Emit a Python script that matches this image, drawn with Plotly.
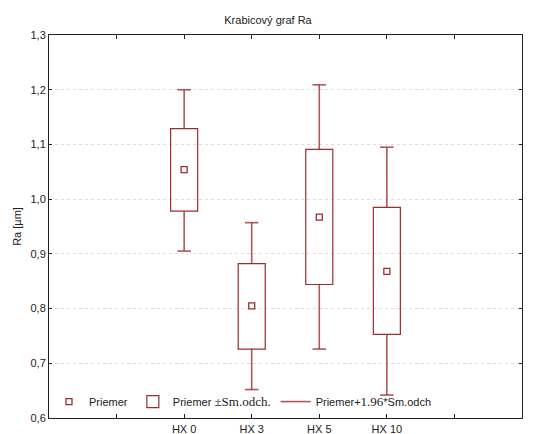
import plotly.graph_objects as go

categories = ["HX 0", "HX 3", "HX 5", "HX 10"]
means = [1.054, 0.805, 0.967, 0.868]
box_low = [0.978, 0.726, 0.844, 0.753]
box_high = [1.129, 0.882, 1.091, 0.985]
whisk_low = [0.905, 0.652, 0.726, 0.642]
whisk_high = [1.200, 0.957, 1.209, 1.095]
tick_labels = [""] + categories + [""]

positions = [i + 2 for i in range(len(categories))]
col = "#9b2d30"
font_sans = "Liberation Sans, Arial, sans-serif"
serif = "Liberation Serif, Times New Roman, serif"

fig = go.Figure()

# whiskers (built from data values)
wx, wy = [], []
cap = 0.1
for p, bl, bh, wl, wh in zip(positions, box_low, box_high, whisk_low, whisk_high):
    wx += [p, p, None, p - cap, p + cap, None, p, p, None, p - cap, p + cap, None]
    wy += [bh, wh, None, wh, wh, None, bl, wl, None, wl, wl, None]

fig.add_trace(go.Scatter(
    x=positions, y=means, mode="markers",
    marker=dict(symbol="square-open", size=6, color=col, line=dict(width=1.3, color=col)),
    name="Priemer",
))
fig.add_trace(go.Bar(
    x=positions, base=box_low, y=[h - l for h, l in zip(box_high, box_low)],
    width=0.4, marker=dict(color="rgba(255,255,255,0)", line=dict(color=col, width=1.2)),
    name=f'Priemer <span style="font-family:{serif};font-size:13px">±Sm.odch.</span>',
    hoverinfo="skip",
))
fig.add_trace(go.Scatter(
    x=wx, y=wy, mode="lines", line=dict(color="rgba(155,45,48,0.8)", width=1.6),
    name=f'Priemer+<span style="font-family:{serif};font-size:13px">1.96</span>*Sm.odch',
))

fig.update_layout(
    width=536, height=434,
    margin=dict(l=49, r=14, t=35, b=16),
    paper_bgcolor="white", plot_bgcolor="white",
    separators=", ",
    title=dict(text="Krabicový graf Ra", x=0.5, xanchor="center", y=0.953, yanchor="middle",
               font=dict(family=font_sans, size=11, color="#222")),
    font=dict(family=font_sans, size=11, color="#222"),
    showlegend=True,
    legend=dict(orientation="h", x=0.0, y=0.005, xanchor="left", yanchor="bottom",
                bgcolor="rgba(0,0,0,0)", font=dict(size=11, color="#222"),
                itemwidth=30, traceorder="normal"),
    xaxis=dict(range=[0, 7], tickvals=[1, 2, 3, 4, 5, 6], ticktext=tick_labels,
               showgrid=False, zeroline=False, showline=True, linecolor="#222", linewidth=1,
               mirror="ticks", ticks="inside", ticklen=4, tickcolor="#222",
               tickfont=dict(size=11), ticklabelstandoff=1, automargin=False),
    yaxis=dict(range=[0.6, 1.3], dtick=0.1, tickformat=".1f",
               showgrid=True, gridcolor="#dddddd", griddash="dot", gridwidth=1,
               zeroline=False, showline=True, linecolor="#222", linewidth=1,
               mirror="ticks", ticks="inside", ticklen=3, tickcolor="#222",
               title=dict(text="Ra [µm]", font=dict(size=11), standoff=6),
               tickfont=dict(size=11), automargin=False),
)

fig.write_html("out.html", config={"displayModeBar": False},
               post_script="document.body.style.margin='0';")
